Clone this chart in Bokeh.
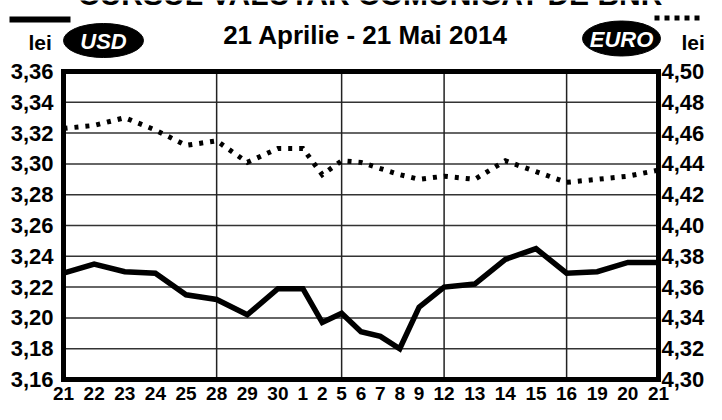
from bokeh.plotting import figure
from bokeh.models import Range1d
from bokeh.core.properties import value
from bokeh.embed import file_html
from bokeh.resources import INLINE

# ---------------- data ----------------
day_labels = ["21", "22", "23", "24", "25", "28", "29", "30", "1", "2", "5", "6", "7",
              "8", "9", "12", "13", "14", "15", "16", "19", "20", "21"]
usd = [3.229, 3.235, 3.230, 3.229, 3.215, 3.212, 3.202, 3.219, 3.219, 3.197, 3.203, 3.191,
       3.188, 3.180, 3.207, 3.220, 3.222, 3.238, 3.245, 3.229, 3.230, 3.236, 3.236]
euro = [4.463, 4.465, 4.470, 4.462, 4.452, 4.455, 4.441, 4.450, 4.450, 4.433, 4.442, 4.441,
        4.437, 4.433, 4.430, 4.432, 4.430, 4.442, 4.435, 4.428, 4.430, 4.432, 4.436]
usd_ticks = [3.16, 3.18, 3.20, 3.22, 3.24, 3.26, 3.28, 3.30, 3.32, 3.34, 3.36]
usd_tick_labels = ["3,16", "3,18", "3,20", "3,22", "3,24", "3,26", "3,28", "3,30", "3,32", "3,34", "3,36"]
euro_ticks = [4.30, 4.32, 4.34, 4.36, 4.38, 4.40, 4.42, 4.44, 4.46, 4.48, 4.50]
euro_tick_labels = ["4,30", "4,32", "4,34", "4,36", "4,38", "4,40", "4,42", "4,44", "4,46", "4,48", "4,50"]
week_start_idx = [5, 10, 15, 19]   # Mondays: 28 Apr, 5, 12, 19 May

title_top = "CURSUL VALUTAR COMUNICAT DE BNR"
title_period = "21 Aprilie - 21 Mai 2014"
unit_label = "lei"
usd_name = "USD"
euro_name = "EURO"

# x positions: day labels are packed by their text width (2-digit vs 1-digit days)
gap = 0.72
pos = [0.0]
for a, b in zip(day_labels[:-1], day_labels[1:]):
    pos.append(pos[-1] + (len(a) + len(b)) / 2 + gap)

FONT = value("Liberation Sans")
W, H = 706, 404
BOX_L, BOX_R, BOX_T, BOX_B = 63, 658, 71, 379   # plot box on the canvas (px)
X0, X1 = pos[0], pos[-1]
U0, U1 = usd_ticks[0], usd_ticks[-1]
E0, E1 = euro_ticks[0], euro_ticks[-1]
sx = (X1 - X0) / (BOX_R - BOX_L)        # data units per pixel
su = (U1 - U0) / (BOX_B - BOX_T)
se = (E1 - E0) / (BOX_B - BOX_T)

p = figure(width=W, height=H, output_backend="svg", toolbar_location=None,
           x_range=Range1d(X0 - BOX_L * sx, X1 + (W - BOX_R) * sx),
           y_range=Range1d(U0 - (H - BOX_B) * su, U1 + BOX_T * su),
           x_axis_location=None, y_axis_location=None)
p.extra_y_ranges = {"euro": Range1d(E0 - (H - BOX_B) * se, E1 + BOX_T * se)}
p.min_border = 0
p.min_border_left = p.min_border_right = p.min_border_top = p.min_border_bottom = 0
p.outline_line_color = None
p.background_fill_color = "white"
p.border_fill_color = "white"
p.xgrid.visible = False
p.ygrid.visible = False

XA, XB = p.x_range.start, p.x_range.end
YA, YB = p.y_range.start, p.y_range.end


def hx(px):   # header decoration: canvas px -> x data
    return XA + px * sx


def hy(py):   # canvas px from top -> y data
    return YB - py * su


# ---------------- grid ----------------
inner = usd_ticks[1:-1]
p.segment(x0=[X0] * len(inner), x1=[X1] * len(inner), y0=inner, y1=inner,
          line_color="#333333", line_width=1.5)
wx = [pos[i] for i in week_start_idx]
p.segment(x0=wx, x1=wx, y0=[U0] * len(wx), y1=[U1] * len(wx),
          line_color="#222222", line_width=1.5)

# ---------------- series ----------------
p.line(pos, euro, y_range_name="euro", line_color="black", line_width=5,
       line_dash="4 7", line_cap="butt", line_join="miter")
p.line(pos, usd, line_color="black", line_width=5.5, line_join="miter")

# plot box
p.quad(left=[X0], right=[X1], bottom=[U0], top=[U1], fill_color=None,
       line_color="black", line_width=5, line_join="miter")

# ---------------- tick labels ----------------
p.text(x=[X0] * len(usd_ticks), y=usd_ticks, text=usd_tick_labels, x_offset=-10,
       text_font=FONT, text_font_style="bold", text_font_size="22px",
       text_align="right", text_baseline="middle", text_color="black")
p.text(x=[X1] * len(euro_ticks), y=euro_ticks, text=euro_tick_labels, x_offset=3,
       y_range_name="euro", text_font=FONT, text_font_style="bold", text_font_size="22px",
       text_align="left", text_baseline="middle", text_color="black")
p.text(x=pos, y=[U0] * len(pos), text=day_labels, y_offset=13.8,
       text_font=FONT, text_font_style="bold", text_font_size="19px",
       text_align="center", text_baseline="middle", text_color="black")

# ---------------- header ----------------
def htext(px, py, t, size, align="left", color="black", style="bold"):
    p.text(x=[hx(px)], y=[hy(py)], text=[t], text_font=FONT, text_font_style=style,
           text_font_size=size, text_align=align, text_baseline="middle", text_color=color)


htext(370, -6, title_top, "30px", align="center")
htext(365, 34, title_period, "26px", align="center")

# USD legend
p.segment(x0=[hx(9)], x1=[hx(70)], y0=[hy(19)], y1=[hy(19)], line_color="black",
          line_width=6, line_cap="butt")
htext(28, 42, unit_label, "21px")
p.ellipse(x=[hx(103)], y=[hy(40)], width=80, height=34, width_units="screen",
          height_units="screen", fill_color="black", line_color="black")
htext(103, 41, usd_name, "22px", align="center", color="white", style="bold italic")

# EURO legend
p.segment(x0=[hx(654)], x1=[hx(702)], y0=[hy(17.5)], y1=[hy(17.5)], line_color="black",
          line_width=5, line_dash="5 5", line_cap="butt")
p.ellipse(x=[hx(621)], y=[hy(38)], width=78, height=35, width_units="screen",
          height_units="screen", fill_color="black", line_color="black")
htext(621, 39, euro_name, "22px", align="center", color="white", style="bold italic")
htext(681, 42, unit_label, "21px")

open("out.html", "w").write(file_html(p, INLINE))
